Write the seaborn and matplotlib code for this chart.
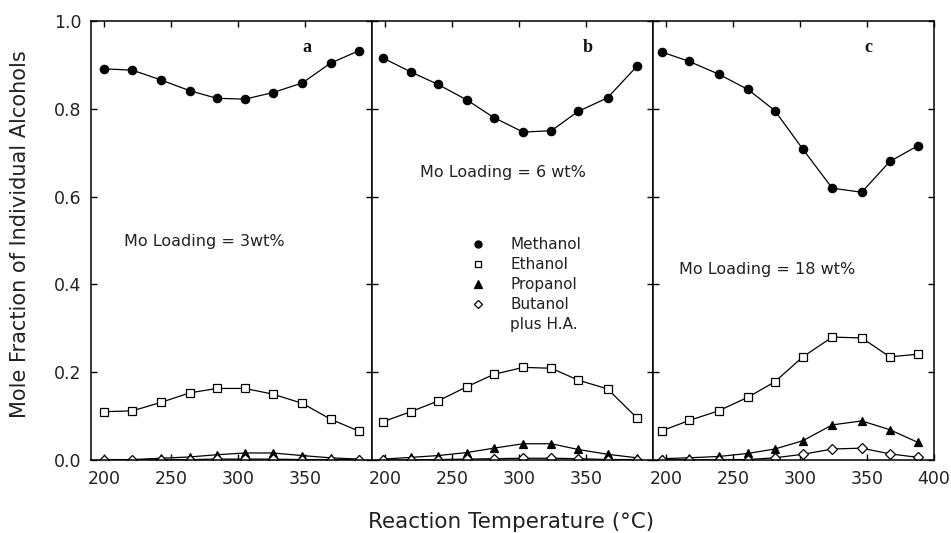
import matplotlib
matplotlib.use('Agg')
import matplotlib.pyplot as plt
import seaborn as sns
from matplotlib.lines import Line2D

sns.set_theme(style='white')
plt.rcParams['font.family'] = ['DejaVu Sans']

# ---- data ----
temps_a = [200, 221, 242, 264, 284, 305, 326, 348, 369, 390]
temps_b = [198, 219, 239, 261, 281, 303, 324, 344, 366, 388]
temps_c = [197, 217, 239, 261, 281, 302, 324, 346, 367, 388]

methanol_a = [0.891, 0.888, 0.866, 0.841, 0.824, 0.822, 0.837, 0.859, 0.904, 0.932]
ethanol_a = [0.110, 0.112, 0.131, 0.153, 0.163, 0.163, 0.150, 0.129, 0.093, 0.066]
propanol_a = [0.001, 0.001, 0.004, 0.007, 0.012, 0.016, 0.016, 0.010, 0.005, 0.002]
butanol_a = [0.000, 0.000, 0.001, 0.001, 0.002, 0.002, 0.002, 0.001, 0.001, 0.000]

methanol_b = [0.916, 0.884, 0.856, 0.820, 0.780, 0.747, 0.750, 0.794, 0.825, 0.897]
ethanol_b = [0.087, 0.110, 0.134, 0.167, 0.195, 0.211, 0.209, 0.182, 0.162, 0.096]
propanol_b = [0.002, 0.006, 0.010, 0.017, 0.027, 0.037, 0.037, 0.024, 0.013, 0.005]
butanol_b = [0.000, 0.000, 0.001, 0.002, 0.003, 0.004, 0.004, 0.003, 0.001, 0.001]

methanol_c = [0.929, 0.908, 0.879, 0.844, 0.796, 0.708, 0.619, 0.610, 0.680, 0.716]
ethanol_c = [0.067, 0.090, 0.112, 0.143, 0.178, 0.235, 0.280, 0.278, 0.235, 0.241]
propanol_c = [0.003, 0.005, 0.008, 0.015, 0.025, 0.044, 0.080, 0.089, 0.069, 0.040]
butanol_c = [0.001, 0.000, 0.001, 0.001, 0.005, 0.013, 0.025, 0.027, 0.014, 0.006]

series_names = ['Methanol', 'Ethanol', 'Propanol', 'Butanol']
panel_letters = ['a', 'b', 'c']
loading_texts = ['Mo Loading = 3wt%', 'Mo Loading = 6 wt%', 'Mo Loading = 18 wt%']
xticks_ab = [200, 250, 300, 350]
xticks_c = [200, 250, 300, 350, 400]
yticks = [0.0, 0.2, 0.4, 0.6, 0.8, 1.0]

panels = [
    (temps_a, [methanol_a, ethanol_a, propanol_a, butanol_a]),
    (temps_b, [methanol_b, ethanol_b, propanol_b, butanol_b]),
    (temps_c, [methanol_c, ethanol_c, propanol_c, butanol_c]),
]

# marker styles per series
styles = [
    dict(marker='o', markersize=6, markerfacecolor='black'),
    dict(marker='s', markersize=5.2, markerfacecolor='white'),
    dict(marker='^', markersize=6.2, markerfacecolor='black'),
    dict(marker='D', markersize=5.0, markerfacecolor='white'),
]

W, H = 951, 533
fig = plt.figure(figsize=(W / 100, H / 100), dpi=100)
fig.patch.set_facecolor('white')

lefts = [91, 372, 653]
pw = 281
bottom_px, top_px = 460, 21
axes = []
for i, lp in enumerate(lefts):
    ax = fig.add_axes([lp / W, 1 - bottom_px / H, pw / W, (bottom_px - top_px) / H])
    axes.append(ax)

text_pos = [(275, 0.497), (288, 0.656), (275, 0.433)]

for i, (ax, (temps, vals)) in enumerate(zip(axes, panels)):
    for v, st in zip(vals, styles):
        sns.lineplot(x=temps, y=v, ax=ax, color='black', linewidth=0.9,
                     markeredgecolor='black', markeredgewidth=0.9, **st)
    ax.set_xlim(190, 400)
    ax.set_ylim(0, 1.0)
    ax.set_xticks(xticks_c if i == 2 else xticks_ab)
    ax.set_yticks(yticks)
    if i == 0:
        ax.set_yticklabels([f'{t:.1f}' for t in yticks])
    else:
        ax.set_yticklabels([])
    ax.tick_params(direction='in', top=True, right=True, left=True, bottom=True,
                   length=4, width=1, color='black', labelsize=12.5,
                   labelcolor='#222222')
    ax.tick_params(axis='x', pad=7)
    ax.tick_params(axis='y', pad=7)
    for s in ax.spines.values():
        s.set_color('black')
        s.set_linewidth(1.1)
    ax.set_xlabel('')
    ax.set_ylabel('')
    ax.grid(False)
    ax.text(351, 0.94, panel_letters[i], fontsize=13, fontweight='bold',
            family='Liberation Serif', ha='center', va='center', color='#111111')
    tx, ty = text_pos[i]
    ax.text(tx, ty, loading_texts[i], fontsize=11.5, ha='center', va='center',
            color='#222222')

# legend in middle panel
handles = []
for st in styles:
    handles.append(Line2D([], [], linestyle='none', color='black',
                          marker=st['marker'], markersize=st['markersize'] * 0.85,
                          markerfacecolor=st['markerfacecolor'],
                          markeredgecolor='black', markeredgewidth=0.9))
handles.append(Line2D([], [], linestyle='none'))
labels = series_names + ['plus H.A.']
axes[1].legend(handles, labels, loc='upper left', bbox_to_anchor=(0.35, 0.508),
               frameon=False, handletextpad=1.6, labelspacing=0.33, fontsize=11,
               handlelength=1.0, borderpad=0, borderaxespad=0,
               labelcolor='#222222')

fig.text(511.5 / W, 1 - 522 / H, 'Reaction Temperature (°C)', ha='center',
         va='center', fontsize=15.5, color='#222222')
fig.text(20 / W, 1 - 234 / H, 'Mole Fraction of Individual Alcohols', ha='center',
         va='center', rotation=90, fontsize=15, color='#222222')

fig.savefig('out.png', dpi=100, facecolor='white')
